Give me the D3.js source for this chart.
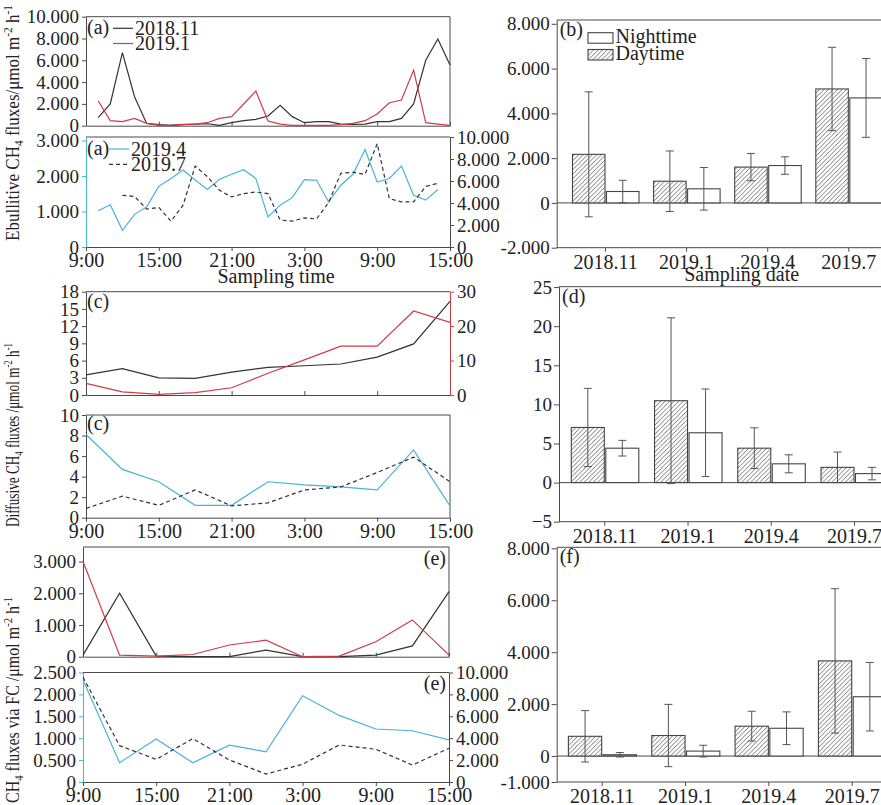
<!DOCTYPE html>
<html><head><meta charset="utf-8">
<script src="https://cdn.jsdelivr.net/npm/d3@7"></script>
<style>
body{margin:0;background:#fff}
svg{display:block}
text{font-family:"Liberation Serif","Times New Roman",serif;fill:#222}
</style>
</head><body><svg id="c" width="881" height="805"></svg>
<script>
// ---------- DATA ----------
const hourTicks = [0, 6, 12, 18, 24, 30];
const hourLabels = ["9:00", "15:00", "21:00", "3:00", "9:00", "15:00"];

// Ebullitive fluxes (hourly samples)
const ebHours30 = [1,2,3,4,5,6,7,8,9,10,11,12,13,14,15,16,17,18,19,20,21,22,23,24,25,26,27,28,29,30];
const eb201811 = [750,2000,6700,2660,210,100,30,90,150,180,30,275,460,580,890,1870,830,275,370,370,150,120,150,370,370,670,1990,6000,7950,5570];
const eb20191  = [2290,460,370,670,210,30,60,120,150,275,670,830,1990,3180,430,150,30,30,30,30,90,210,460,1070,2110,2360,5100,275,150,30];
const ebHours194 = [1,2,3,4,5,6,7,8,9,10,11,12,13,14,15,16,17,18,19,20,21,22,23,24,25,26,27,28,29];
const eb20194  = [1020,1190,470,920,1130,1710,1930,2170,1890,1620,1910,2050,2180,1930,850,1180,1390,1900,1880,1270,1740,2050,2750,1830,1930,2280,1460,1320,1620];
const ebHours197 = [3,4,5,6,7,8,9,10,11,12,13,14,15,16,17,18,19,20,21,22,23,24,25,26,27,28,29];
const eb20197  = [4700,4600,3450,3600,2350,3800,7350,6400,5150,4550,4850,5000,4850,2450,2350,2650,2550,4050,6700,6800,6600,9400,4400,4100,4100,5500,5800];

// Diffusive fluxes (3-hourly)
const hours3 = [0,3,6,9,12,15,18,21,24,27,30];
const dif201811 = [3.5,4.6,3.0,2.9,4.0,4.8,5.1,5.4,6.6,8.9,16.3];
const dif20191  = [3.4,0.9,0.2,0.7,2.1,6.3,10.2,14.2,14.2,24.4,21.1];
const dif20194  = [8.1,4.7,3.5,1.2,1.2,3.5,3.2,3.0,2.7,6.6,1.15];
const dif20197  = [0.9,2.1,1.2,2.7,1.15,1.45,2.7,3.0,4.4,5.9,3.5];

// Fluxes via FC (3-hourly)
const fc201811 = [50,2000,20,0,0,210,0,0,50,340,2050];
const fc20191  = [3000,50,20,70,370,520,0,20,470,1160,50];
const fc20194  = [2330,440,980,440,840,690,1970,1520,1210,1170,960];
const fc20197  = [9570,3320,2070,3960,2010,730,1620,3380,2990,1550,3080];

// Day / night means with SD
const dates = ["2018.11", "2019.1", "2019.4", "2019.7"];
const ebDay = [2170, 970, 1600, 5090],  ebDayErr = [2790, 1350, 610, 1860];
const ebNight = [510, 630, 1670, 4690], ebNightErr = [500, 950, 390, 1760];
const difDay = [7.05, 10.47, 4.4, 1.95], difDayErr = [5.0, 10.6, 2.6, 1.95];
const difNight = [4.4, 6.37, 2.4, 1.15], difNightErr = [1.0, 5.6, 1.15, 0.8];
const fcDay = [760, 790, 1150, 3665],  fcDayErr = [990, 1200, 575, 2780];
const fcNight = [50, 190, 1070, 2285], fcNightErr = [85, 225, 630, 1320];

// ---------- DRAW ----------
const svg = d3.select("#c");
const CYAN = "#45b5d3", RED = "#cf3c47", BLK = "#333", AX = "#4a4a4a", TXT = "#222";
const fmtK = d => d === 0 ? "0" : (d / 1000).toFixed(3);
const fmtI = d3.format("d");
const XR = 905;

const defs = svg.append("defs");
const pat = defs.append("pattern").attr("id", "hatch").attr("patternUnits", "userSpaceOnUse")
  .attr("width", 4.5).attr("height", 4.5);
pat.append("rect").attr("width", 4.5).attr("height", 4.5).attr("fill", "#fff");
pat.append("path").attr("d", "M-1,1 L1,-1 M0,4.5 L4.5,0 M3.5,5.5 L5.5,3.5")
  .attr("stroke", "#555").attr("stroke-width", 0.8);

function styleAxis(sel, color, fs) {
  sel.attr("font-family", null).attr("font-size", null);
  sel.select(".domain").attr("stroke", color).attr("stroke-width", 1);
  sel.selectAll(".tick line").attr("stroke", color);
  sel.selectAll(".tick text").attr("fill", color === AX ? TXT : color).style("font-size", fs + "px");
}

function linePanel(p) {
  const x = d3.scaleLinear().domain([0, 30]).range([p.x0, p.x1]);
  const yL = d3.scaleLinear().domain(p.lDom).range([p.yb, p.yt]);
  const yR = p.rDom ? d3.scaleLinear().domain(p.rDom).range([p.yb, p.yt]) : null;
  const g = svg.append("g");
  g.append("line").attr("x1", p.x0).attr("x2", p.x1).attr("y1", p.yt).attr("y2", p.yt)
    .attr("stroke", AX);
  if (!yR) g.append("line").attr("x1", p.x1).attr("x2", p.x1).attr("y1", p.yt).attr("y2", p.yb)
    .attr("stroke", AX);
  const xa = g.append("g").attr("transform", `translate(0,${p.yb})`)
    .call(d3.axisBottom(x).tickValues(hourTicks).tickSize(p.xLabels ? 4 : -4).tickSizeOuter(0)
      .tickPadding(2).tickFormat((d, i) => p.xLabels ? hourLabels[i] : ""));
  styleAxis(xa, AX, 20);
  const la = g.append("g").attr("transform", `translate(${p.x0},0)`)
    .call(d3.axisLeft(yL).tickValues(p.lTicks).tickFormat(p.lFmt).tickSize(4).tickSizeOuter(0).tickPadding(3));
  styleAxis(la, p.lColor || AX, 19);
  if (yR) {
    const ra = g.append("g").attr("transform", `translate(${p.x1},0)`)
      .call(d3.axisRight(yR).tickValues(p.rTicks).tickFormat(p.rFmt).tickSize(4).tickSizeOuter(0).tickPadding(3));
    styleAxis(ra, p.rColor || AX, 19);
  }
  p.series.forEach(s => {
    const ys = s.axis === "R" ? yR : yL;
    g.append("path").datum(d3.zip(s.hours, s.values))
      .attr("fill", "none").attr("stroke", s.color).attr("stroke-width", 1.2)
      .attr("stroke-dasharray", s.dash || null)
      .attr("d", d3.line().x(d => x(d[0])).y(d => ys(d[1])));
  });
  if (p.letter) g.append("text").attr("x", p.letter[0]).attr("y", p.letter[1])
    .attr("text-anchor", p.letter[2] || "start").style("font-size", "20px").text(p.letter[3]);
  (p.legend || []).forEach(l => {
    g.append("line").attr("x1", l.x).attr("x2", l.x + 20).attr("y1", l.y).attr("y2", l.y)
      .attr("stroke", l.color).attr("stroke-width", 1.2).attr("stroke-dasharray", l.dash || null);
    g.append("text").attr("x", l.x + 22).attr("y", l.y + 6.5).style("font-size", "20px").text(l.label);
  });
}

function barPanel(p) {
  const x = d3.scalePoint().domain(dates).range([p.c0, p.c3]);
  const y = d3.scaleLinear().domain(p.dom).range([p.yb, p.yt]);
  const g = svg.append("g");
  g.append("line").attr("x1", p.x0).attr("x2", XR).attr("y1", p.yt).attr("y2", p.yt).attr("stroke", AX);
  g.append("line").attr("x1", p.x0).attr("x2", XR).attr("y1", p.yb).attr("y2", p.yb).attr("stroke", AX);
  g.append("line").attr("x1", p.x0).attr("x2", XR).attr("y1", y(0)).attr("y2", y(0)).attr("stroke", AX);
  const xa = g.append("g").attr("transform", `translate(0,${p.yb})`)
    .call(d3.axisBottom(x).tickSize(4).tickSizeOuter(0).tickPadding(3));
  xa.select(".domain").remove();
  styleAxis(xa, AX, 20);
  const ya = g.append("g").attr("transform", `translate(${p.x0},0)`)
    .call(d3.axisLeft(y).tickValues(p.ticks).tickFormat(p.fmt).tickSize(5).tickSizeOuter(0).tickPadding(2));
  styleAxis(ya, AX, 19);
  const bw = p.bw;
  const bars = [];
  dates.forEach((d, i) => {
    bars.push({ x: x(d) - bw, v: p.day[i], e: p.dayErr[i], fill: "url(#hatch)" });
    bars.push({ x: x(d) + 1.5, v: p.night[i], e: p.nightErr[i], fill: "#fff" });
  });
  bars.forEach(b => {
    g.append("rect").attr("x", b.x).attr("width", bw)
      .attr("y", Math.min(y(b.v), y(0))).attr("height", Math.abs(y(b.v) - y(0)))
      .attr("fill", b.fill).attr("stroke", "#444").attr("stroke-width", 1.1);
  });
  bars.forEach(b => {
    const cx = b.x + bw / 2, t = y(b.v + b.e), bt = y(b.v - b.e);
    g.append("line").attr("x1", cx).attr("x2", cx).attr("y1", t).attr("y2", bt).attr("stroke", "#555");
    [t, bt].forEach(yy => g.append("line").attr("x1", cx - 4).attr("x2", cx + 4)
      .attr("y1", yy).attr("y2", yy).attr("stroke", "#555"));
  });
  g.append("text").attr("x", p.x0 + 3).attr("y", p.yt + 16).style("font-size", "20px").text(p.letter);
  return g;
}

// Left column
linePanel({ x0: 86, x1: 450, yt: 16.7, yb: 125.7, lDom: [0, 10000], lTicks: [0, 2000, 4000, 6000, 8000, 10000],
  lFmt: fmtK, xLabels: false, letter: [87, 34, "start", "(a)"],
  legend: [{ x: 113, y: 28.3, color: BLK, label: "2018.11" }, { x: 113, y: 43.5, color: RED, label: "2019.1" }],
  series: [{ hours: ebHours30, values: eb201811, color: BLK }, { hours: ebHours30, values: eb20191, color: RED }] });

linePanel({ x0: 86, x1: 450, yt: 137, yb: 247, lDom: [0, 3100], lTicks: [0, 1000, 2000, 3000], lFmt: fmtK, lColor: CYAN,
  rDom: [0, 10000], rTicks: [0, 2000, 4000, 6000, 8000, 10000], rFmt: fmtK, xLabels: true,
  letter: [87, 155, "start", "(a)"],
  legend: [{ x: 109, y: 149, color: CYAN, label: "2019.4" }, { x: 109, y: 164.3, color: BLK, dash: "4,3", label: "2019.7" }],
  series: [{ hours: ebHours194, values: eb20194, color: CYAN }, { hours: ebHours197, values: eb20197, color: BLK, dash: "4,3", axis: "R" }] });

linePanel({ x0: 86, x1: 450, yt: 291.7, yb: 395, lDom: [0, 18], lTicks: [0, 3, 6, 9, 12, 15, 18], lFmt: fmtI,
  rDom: [0, 30], rTicks: [0, 10, 20, 30], rFmt: fmtI, rColor: RED, xLabels: false,
  letter: [87, 308, "start", "(c)"],
  series: [{ hours: hours3, values: dif201811, color: BLK }, { hours: hours3, values: dif20191, color: RED, axis: "R" }] });

linePanel({ x0: 86, x1: 450, yt: 415, yb: 517.7, lDom: [0, 10], lTicks: [0, 2, 4, 6, 8, 10], lFmt: fmtI, xLabels: true,
  letter: [87, 430, "start", "(c)"],
  series: [{ hours: hours3, values: dif20194, color: CYAN }, { hours: hours3, values: dif20197, color: BLK, dash: "4,3" }] });

linePanel({ x0: 83, x1: 449, yt: 547, yb: 656.7, lDom: [0, 3460], lTicks: [0, 1000, 2000, 3000], lFmt: fmtK, xLabels: false,
  letter: [446, 565, "end", "(e)"],
  series: [{ hours: hours3, values: fc201811, color: BLK }, { hours: hours3, values: fc20191, color: RED }] });

linePanel({ x0: 83, x1: 449, yt: 672.5, yb: 782, lDom: [0, 2500], lTicks: [0, 500, 1000, 1500, 2000, 2500], lFmt: fmtK, lColor: CYAN,
  rDom: [0, 10000], rTicks: [0, 2000, 4000, 6000, 8000, 10000], rFmt: fmtK, xLabels: true,
  letter: [446, 690, "end", "(e)"],
  series: [{ hours: hours3, values: fc20194, color: CYAN }, { hours: hours3, values: fc20197, color: BLK, dash: "4,3", axis: "R" }] });

svg.append("text").attr("x", 276).attr("y", 283).attr("text-anchor", "middle").style("font-size", "20px").text("Sampling time");

// Right column
const gb = barPanel({ x0: 556.7, yt: 20, yb: 247.7, dom: [-2000, 8170], ticks: [-2000, 0, 2000, 4000, 6000, 8000], fmt: fmtK,
  c0: 605, c3: 848.3, bw: 32.5, day: ebDay, dayErr: ebDayErr, night: ebNight, nightErr: ebNightErr, letter: "(b)" });
barPanel({ x0: 559, yt: 286.7, yb: 521.7, dom: [-5, 25.05], ticks: [-5, 0, 5, 10, 15, 20, 25], fmt: fmtI,
  c0: 604.3, c3: 854, bw: 33, day: difDay, dayErr: difDayErr, night: difNight, nightErr: difNightErr, letter: "(d)" });
barPanel({ x0: 556.7, yt: 547.3, yb: 782, dom: [-1000, 8040], ticks: [-1000, 0, 2000, 4000, 6000, 8000], fmt: fmtK,
  c0: 601.7, c3: 851.7, bw: 33.3, day: fcDay, dayErr: fcDayErr, night: fcNight, nightErr: fcNightErr, letter: "(f)" });

// legend (b)
[{ y: 32.7, fill: "#fff", label: "Nighttime" }, { y: 49.5, fill: "url(#hatch)", label: "Daytime" }].forEach(l => {
  gb.append("rect").attr("x", 588).attr("y", l.y).attr("width", 25).attr("height", 10.5)
    .attr("fill", l.fill).attr("stroke", "#444").attr("stroke-width", 1.1);
  gb.append("text").attr("x", 615.5).attr("y", l.y + 10.5).style("font-size", "20px").text(l.label);
});
svg.append("text").attr("x", 741.7).attr("y", 281).attr("text-anchor", "middle").style("font-size", "20px").text("Sampling date");

// Y titles (rotated)
function yTitle(cy, len, pre, post) {
  const t = svg.append("text").attr("transform", `translate(19,${cy}) rotate(-90)`)
    .attr("text-anchor", "middle").style("font-size", "18px")
    .attr("textLength", len).attr("lengthAdjust", "spacingAndGlyphs");
  t.append("tspan").text(pre + "CH");
  t.append("tspan").attr("dy", 4).style("font-size", "12px").text("4");
  t.append("tspan").attr("dy", -4).text(post + "/μmol m");
  t.append("tspan").attr("dy", -7).style("font-size", "12px").text("-2");
  t.append("tspan").attr("dy", 7).text(" h");
  t.append("tspan").attr("dy", -7).style("font-size", "12px").text("-1");
}
yTitle(123, 236, "Ebullitive ", " fluxes");
yTitle(435, 184, "Diffusive ", " fluxes ");
yTitle(700, 206, "", " fluxes via FC ");
</script>
</body></html>
